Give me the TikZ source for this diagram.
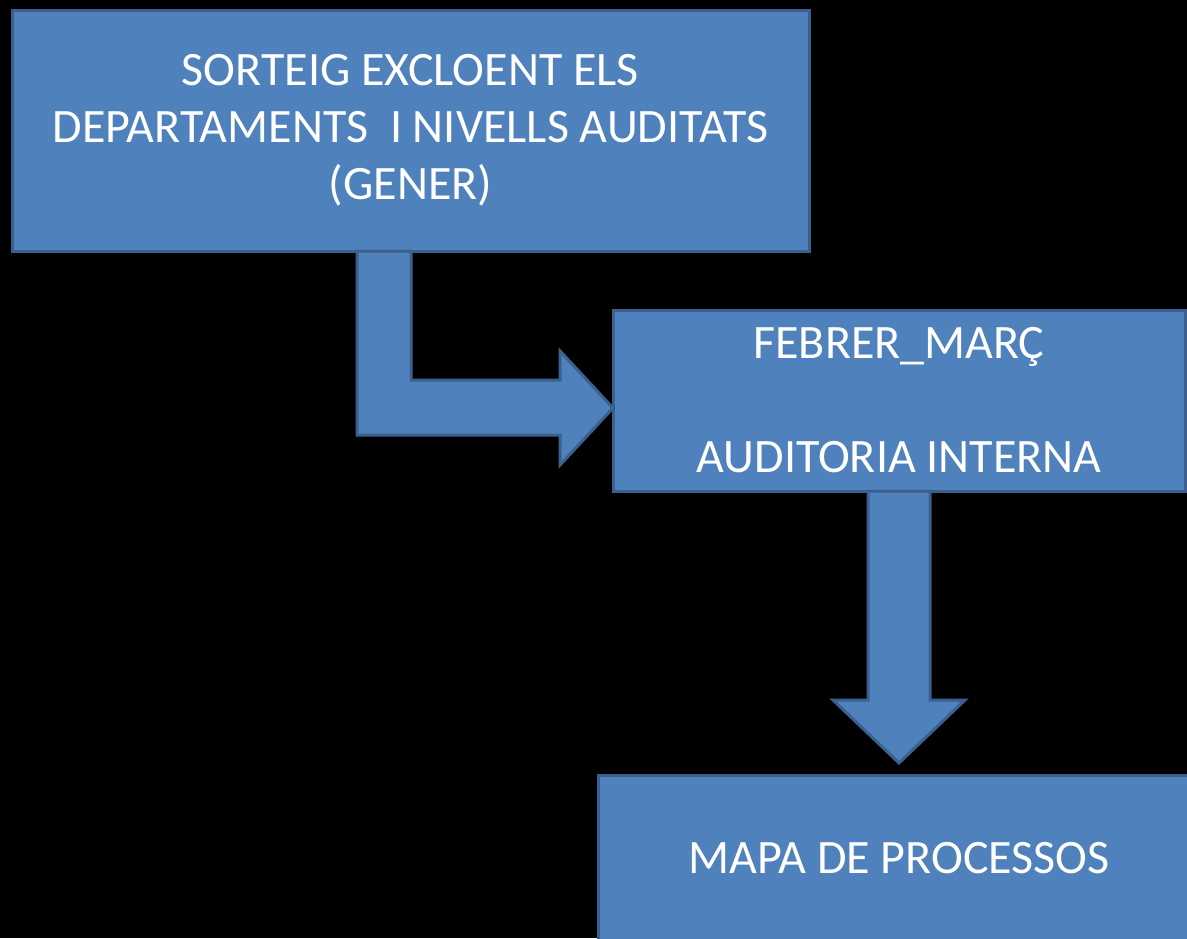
\documentclass[tikz,border=0pt]{standalone}
\usepackage{fontspec}
\setmainfont{Carlito}
\usetikzlibrary{positioning}

\definecolor{boxblue}{HTML}{4F81BD}
\definecolor{boxline}{HTML}{3B6090}

\tikzset{
  stagebox/.style={draw=boxline, line width=1.5pt, fill=boxblue, text=white,
    align=center, inner sep=0pt, font=\fontsize{24}{28.5}\selectfont},
  blockarrow/.style={draw=boxline, line width=1.5pt, fill=boxblue, line join=miter}
}

\begin{document}
\begin{tikzpicture}[x=0.5pt,y=-0.5pt]

%background
\fill [black] (0,0) rectangle (1187,938);
\clip (0,0) rectangle (1187,938);

%boxes
\node [stagebox, minimum width=398.5pt, minimum height=120.5pt] (sorteig) at (410.5,130.5)
  {SORTEIG EXCLOENT ELS\\DEPARTAMENTS\ \ I NIVELLS AUDITATS\\(GENER)};
\node [stagebox, minimum width=286pt, minimum height=90.5pt] (febrer) at (899,400.5)
  {FEBRER\_MARÇ\\[28.5pt]AUDITORIA INTERNA};
\node [stagebox, minimum width=320pt, minimum height=130pt] (mapa) at (918,905) {};
\node [text=white, font=\fontsize{24}{28.5}\selectfont] (mapatext) at (899,858) {MAPA DE PROCESSOS};

%bent arrow
\draw [blockarrow] (357,251) -- (411,251) -- (411,380) -- (560,380) -- (560,351)
  -- (613,408) -- (560,465) -- (560,435) -- (357,435) -- cycle;

%down arrow
\draw [blockarrow] (868,491) -- (930,491) -- (930,700) -- (965,700)
  -- (899,763) -- (833,700) -- (868,700) -- cycle;

\end{tikzpicture}
\end{document}
